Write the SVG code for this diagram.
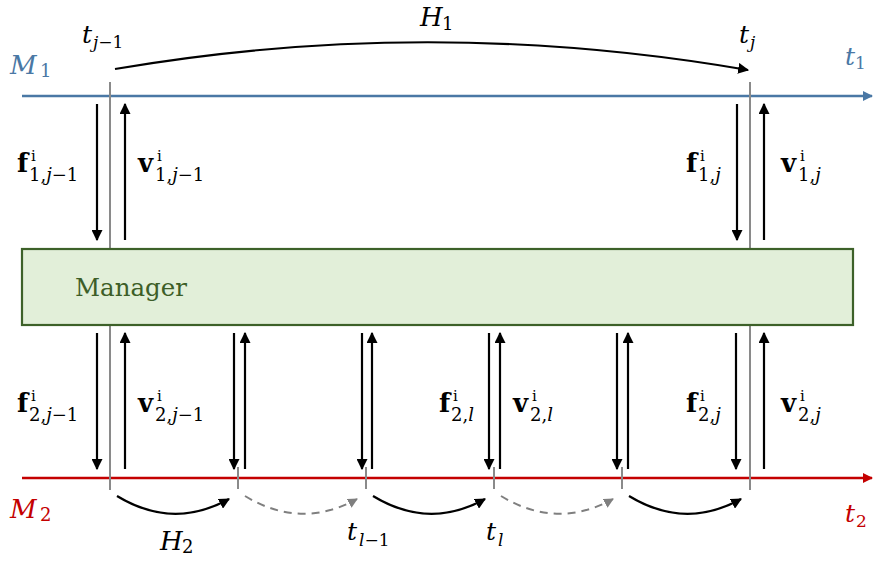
<svg xmlns="http://www.w3.org/2000/svg" width="873" height="561" viewBox="0 0 873 561">
<style>
text{font-family:'DejaVu Serif','Liberation Serif',serif;fill:#000}
.it{font-style:italic}
.mv{font-weight:bold;font-size:26px}
.sup{font-size:15px}
.sub{font-size:18px}
.t{font-style:italic;font-size:25px}
.ts{font-size:17px}
.cap{font-style:italic;font-size:26px}
.blue{fill:#4a78a5}
.red{fill:#c40000}
.flow{stroke:#000;stroke-width:2.2;fill:none}
.grey{stroke:#8a8a8a;stroke-width:2;fill:none}
.dash{stroke:#7f7f7f;stroke-width:2;fill:none;stroke-dasharray:8 6}
</style>
<defs>
<marker id="ah" viewBox="0 0 10 10" refX="9" refY="5" markerWidth="5" markerHeight="5" orient="auto" markerUnits="strokeWidth"><path d="M0,0 L10,5 L0,10 z" fill="#000"/></marker>
<marker id="ahg" viewBox="0 0 10 10" refX="9" refY="5" markerWidth="5" markerHeight="5" orient="auto" markerUnits="strokeWidth"><path d="M0,0 L10,5 L0,10 z" fill="#7f7f7f"/></marker>
<marker id="ahb" viewBox="0 0 10 10" refX="9" refY="5" markerWidth="4" markerHeight="4" orient="auto" markerUnits="strokeWidth"><path d="M0,0 L10,5 L0,10 z" fill="#4a78a5"/></marker>
<marker id="ahr" viewBox="0 0 10 10" refX="9" refY="5" markerWidth="4" markerHeight="4" orient="auto" markerUnits="strokeWidth"><path d="M0,0 L10,5 L0,10 z" fill="#c40000"/></marker>
</defs>

<g id="axes">
<line x1="22" y1="96" x2="872" y2="96" stroke="#4a78a5" stroke-width="2.5" marker-end="url(#ahb)"/>
<line x1="22" y1="478" x2="872" y2="478" stroke="#c40000" stroke-width="2.5" marker-end="url(#ahr)"/>
<line class="grey" x1="110" y1="82" x2="110" y2="249"/>
<line class="grey" x1="750" y1="82" x2="750" y2="249"/>
<line class="grey" x1="110" y1="325" x2="110" y2="490"/>
<line class="grey" x1="750" y1="325" x2="750" y2="490"/>
<line class="grey" x1="238" y1="467" x2="238" y2="489"/>
<line class="grey" x1="366" y1="467" x2="366" y2="489"/>
<line class="grey" x1="494" y1="467" x2="494" y2="489"/>
<line class="grey" x1="622" y1="467" x2="622" y2="489"/>
</g>

<g id="manager">
<rect x="22" y="249" width="831" height="76" fill="#e2efd9" stroke="#3d6129" stroke-width="2.2"/>
<text x="75" y="296" font-size="24.5" style="fill:#3d5e28">Manager</text>
</g>

<g id="connectors">
<path class="flow" d="M115,69 Q430,15 748,70" marker-end="url(#ah)"/>
<line class="flow" x1="97" y1="104" x2="97" y2="240" marker-end="url(#ah)"/>
<line class="flow" x1="125" y1="240" x2="125" y2="104" marker-end="url(#ah)"/>
<line class="flow" x1="737" y1="104" x2="737" y2="240" marker-end="url(#ah)"/>
<line class="flow" x1="764" y1="240" x2="764" y2="104" marker-end="url(#ah)"/>

<line class="flow" x1="97" y1="333" x2="97" y2="469" marker-end="url(#ah)"/>
<line class="flow" x1="125" y1="469" x2="125" y2="333" marker-end="url(#ah)"/>
<line class="flow" x1="234" y1="333" x2="234" y2="469" marker-end="url(#ah)"/>
<line class="flow" x1="245" y1="469" x2="245" y2="333" marker-end="url(#ah)"/>
<line class="flow" x1="362" y1="333" x2="362" y2="469" marker-end="url(#ah)"/>
<line class="flow" x1="372" y1="469" x2="372" y2="333" marker-end="url(#ah)"/>
<line class="flow" x1="489" y1="333" x2="489" y2="469" marker-end="url(#ah)"/>
<line class="flow" x1="500" y1="469" x2="500" y2="333" marker-end="url(#ah)"/>
<line class="flow" x1="617" y1="333" x2="617" y2="469" marker-end="url(#ah)"/>
<line class="flow" x1="628" y1="469" x2="628" y2="333" marker-end="url(#ah)"/>
<line class="flow" x1="736" y1="333" x2="736" y2="469" marker-end="url(#ah)"/>
<line class="flow" x1="764" y1="469" x2="764" y2="333" marker-end="url(#ah)"/>

<path class="flow" d="M117,496 Q173,530 229,499" marker-end="url(#ah)"/>
<path class="dash" d="M245,496 Q301,530 357,499" marker-end="url(#ahg)"/>
<path class="flow" d="M373,496 Q429,530 485,499" marker-end="url(#ah)"/>
<path class="dash" d="M501,496 Q557,530 613,499" marker-end="url(#ahg)"/>
<path class="flow" d="M629,496 Q685,530 741,499" marker-end="url(#ah)"/>
</g>

<g id="labels">
<text class="t" x="82" y="43">t</text><text class="ts" x="93" y="48"><tspan class="it">j</tspan>−1</text>
<text class="t" x="739" y="43">t</text><text class="ts it" x="750" y="48">j</text>
<text class="cap" x="420" y="26">H</text><text class="sub" x="442" y="30">1</text>
<text class="cap blue" x="10" y="74" font-size="28">M</text><text class="sub blue" x="40" y="77">1</text>
<text class="t blue" x="845" y="65">t</text><text class="ts blue" x="855" y="69">1</text>
<text class="cap red" x="10" y="518" font-size="28">M</text><text class="sub red" x="40" y="521">2</text>
<text class="t red" x="845" y="522">t</text><text class="ts red" x="856" y="527">2</text>
<text class="cap" x="160" y="550">H</text><text class="sub" x="182" y="553">2</text>
<text class="t" x="347" y="540">t</text><text class="ts" x="359" y="546"><tspan class="it">l</tspan>−1</text>
<text class="t" x="486" y="540">t</text><text class="ts it" x="498" y="546">l</text>

<text class="mv" x="17" y="172">f</text><text class="sup" x="31" y="161">i</text><text class="sub" x="29" y="181">1,<tspan class="it">j</tspan>−1</text>
<text class="mv" x="138" y="172">v</text><text class="sup" x="157" y="161">i</text><text class="sub" x="155" y="181">1,<tspan class="it">j</tspan>−1</text>
<text class="mv" x="686" y="172">f</text><text class="sup" x="700" y="161">i</text><text class="sub" x="698" y="181">1,<tspan class="it">j</tspan></text>
<text class="mv" x="781" y="172">v</text><text class="sup" x="800" y="161">i</text><text class="sub" x="798" y="181">1,<tspan class="it">j</tspan></text>

<text class="mv" x="17" y="412">f</text><text class="sup" x="31" y="401">i</text><text class="sub" x="29" y="421">2,<tspan class="it">j</tspan>−1</text>
<text class="mv" x="138" y="412">v</text><text class="sup" x="157" y="401">i</text><text class="sub" x="155" y="421">2,<tspan class="it">j</tspan>−1</text>
<text class="mv" x="439" y="412">f</text><text class="sup" x="453" y="401">i</text><text class="sub" x="451" y="421">2,<tspan class="it">l</tspan></text>
<text class="mv" x="513" y="412">v</text><text class="sup" x="532" y="401">i</text><text class="sub" x="530" y="421">2,<tspan class="it">l</tspan></text>
<text class="mv" x="686" y="412">f</text><text class="sup" x="700" y="401">i</text><text class="sub" x="698" y="421">2,<tspan class="it">j</tspan></text>
<text class="mv" x="781" y="412">v</text><text class="sup" x="800" y="401">i</text><text class="sub" x="798" y="421">2,<tspan class="it">j</tspan></text>
</g>
</svg>
